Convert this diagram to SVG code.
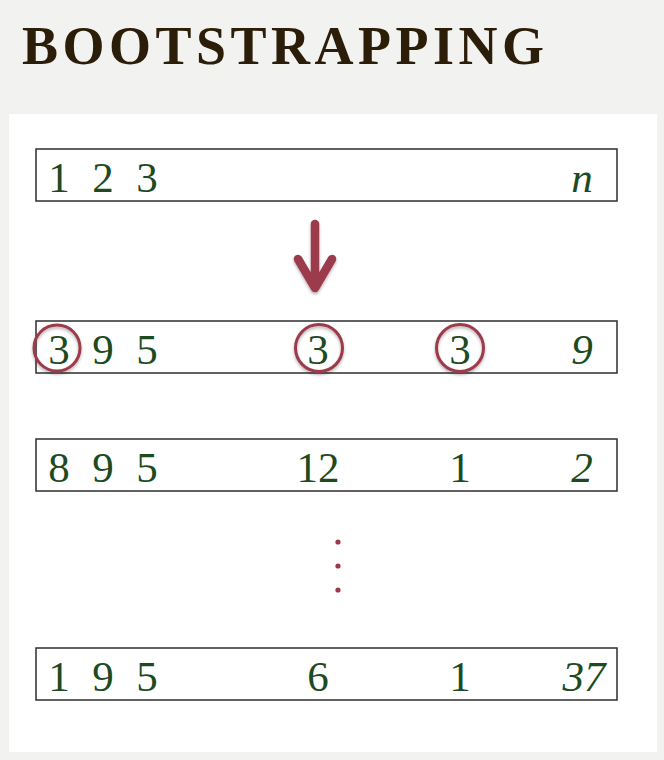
<svg xmlns="http://www.w3.org/2000/svg" width="664" height="760" viewBox="0 0 664 760">
  <defs>
    <filter id="shadow" x="-30%" y="-30%" width="160%" height="160%">
      <feDropShadow dx="0" dy="2" stdDeviation="1.5" flood-color="#000" flood-opacity="0.3"/>
    </filter>
  </defs>
  <style>
    .title { font-family: "Liberation Serif", "DejaVu Serif", serif; font-weight: bold; font-size: 54px; letter-spacing: 4.5px; fill: #2b1d08; }
    .box { fill: #ffffff; stroke: #2e2e2e; stroke-width: 1.5; }
    .num { font-family: "Liberation Serif", "DejaVu Serif", serif; font-size: 43px; fill: #1d4a1f; text-anchor: middle; }
    .it { font-style: italic; }
    .ring { fill: none; stroke: #9c3a4b; stroke-width: 3; filter: url(#shadow); }
    .arrow { fill: none; stroke: #9c3a4b; stroke-width: 8.5; stroke-linecap: round; stroke-linejoin: round; filter: url(#shadow); }
    .dot { fill: #9c3a4b; }
  </style>
  <rect x="0" y="0" width="664" height="760" fill="#f2f2f0"/>
  <rect x="9" y="114" width="648" height="638" fill="#ffffff"/>
  <text class="title" x="22" y="64">BOOTSTRAPPING</text>

  <g id="row-original">
    <rect class="box" x="36" y="149" width="581" height="52"/>
    <text class="num" x="59" y="192">1</text>
    <text class="num" x="103" y="192">2</text>
    <text class="num" x="147" y="192">3</text>
    <text class="num it" x="582" y="192">n</text>
  </g>

  <g id="connectors">
    <path class="arrow" d="M315 224 V285 M298 259 L315 288 L332 259"/>
  </g>

  <g id="row-sample-1">
    <rect class="box" x="36" y="321" width="581" height="52"/>
    <text class="num" x="59" y="364">3</text>
    <text class="num" x="103" y="364">9</text>
    <text class="num" x="147" y="364">5</text>
    <text class="num" x="318" y="364">3</text>
    <text class="num" x="460" y="364">3</text>
    <text class="num it" x="582" y="364">9</text>
    <circle class="ring" cx="57" cy="348" r="23"/>
    <circle class="ring" cx="319" cy="348" r="23.5"/>
    <circle class="ring" cx="460" cy="348" r="23.5"/>
  </g>

  <g id="row-sample-2">
    <rect class="box" x="36" y="439" width="581" height="52"/>
    <text class="num" x="59" y="482">8</text>
    <text class="num" x="103" y="482">9</text>
    <text class="num" x="147" y="482">5</text>
    <text class="num" x="318" y="482">12</text>
    <text class="num" x="460" y="482">1</text>
    <text class="num it" x="582" y="482">2</text>
  </g>

  <g id="ellipsis">
    <circle class="dot" cx="338" cy="542" r="2.6"/>
    <circle class="dot" cx="338" cy="566" r="2.6"/>
    <circle class="dot" cx="338" cy="590" r="2.6"/>
  </g>

  <g id="row-sample-b">
    <rect class="box" x="36" y="648" width="581" height="52"/>
    <text class="num" x="59" y="691">1</text>
    <text class="num" x="103" y="691">9</text>
    <text class="num" x="147" y="691">5</text>
    <text class="num" x="318" y="691">6</text>
    <text class="num" x="460" y="691">1</text>
    <text class="num it" x="584" y="691">37</text>
  </g>
</svg>
